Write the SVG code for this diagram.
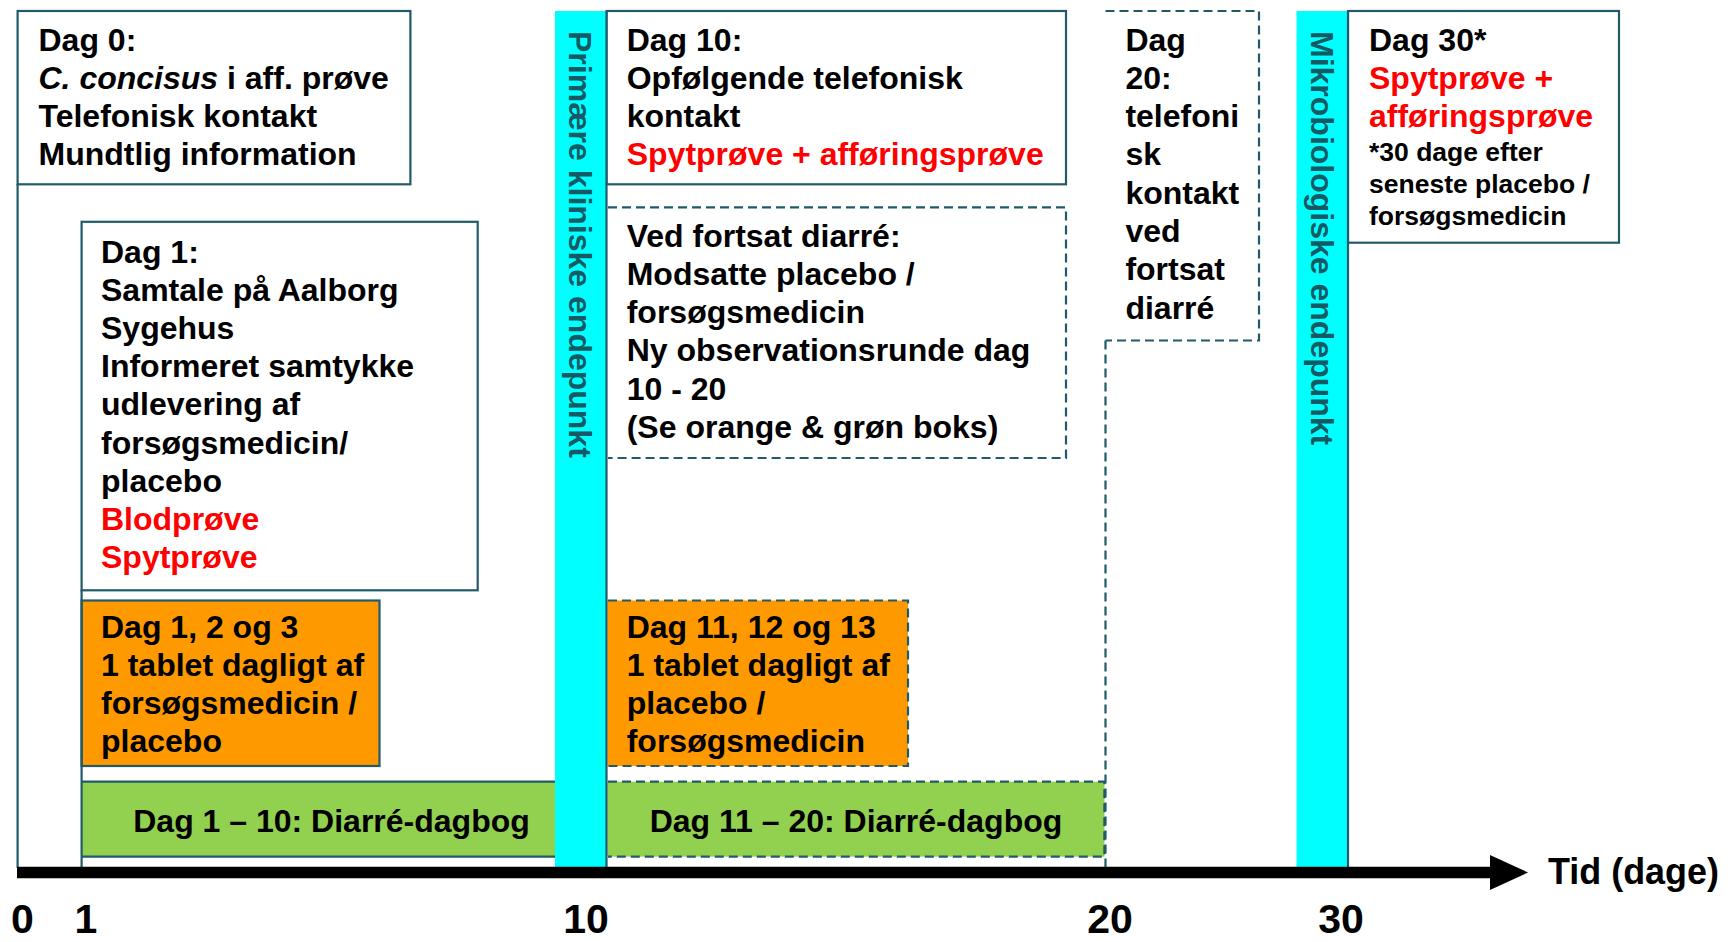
<svg xmlns="http://www.w3.org/2000/svg" width="1730" height="942" viewBox="0 0 1730 942">
<style>
text { font-family: "Liberation Sans", Arial, sans-serif; font-weight: bold; font-size: 32px; fill: #000; }
.red { fill: #FF0000; }
.small { font-size: 26.5px; }
.vert { fill: #145A64; }
.box { fill: #fff; stroke: #215A68; stroke-width: 2.2; }
.dash { fill: none; stroke: #215A68; stroke-width: 2.2; stroke-dasharray: 9 5; }
.solid { fill: none; stroke: #215A68; stroke-width: 2.2; }
.orange { fill: #FF9900; }
.green { fill: #92D050; }
.cyan { fill: #00FFFF; }
.num { font-size: 41px; text-anchor: middle; }
.tid { font-size: 37px; }
.mid { text-anchor: middle; }
</style>
<rect width="1730" height="942" fill="#fff"/>

<g id="dag0">
<rect class="box" x="17.6" y="11" width="392.8" height="173.3"/>
<text x="38.5" y="50.5">Dag 0:</text>
<text x="38.5" y="88.8"><tspan font-style="italic">C. concisus</tspan> i aff. prøve</text>
<text x="38.5" y="127.1">Telefonisk kontakt</text>
<text x="38.5" y="165.4">Mundtlig information</text>
</g>

<g id="dag1">
<rect class="box" x="81.6" y="221.8" width="396.1" height="368.5"/>
<text x="101"><tspan x="101" y="262.5">Dag 1:</tspan><tspan x="101" y="300.7">Samtale på Aalborg</tspan><tspan x="101" y="338.9">Sygehus</tspan><tspan x="101" y="377.1">Informeret samtykke</tspan><tspan x="101" y="415.3">udlevering af</tspan><tspan x="101" y="453.5">forsøgsmedicin/</tspan><tspan x="101" y="491.7">placebo</tspan><tspan x="101" y="529.9" class="red">Blodprøve</tspan><tspan x="101" y="568.1" class="red">Spytprøve</tspan></text>
</g>

<g id="medicin1">
<rect class="orange" x="81.6" y="600.5" width="297.9" height="165.5" stroke="#215A68" stroke-width="2.2"/>
<text><tspan x="101" y="637.5">Dag 1, 2 og 3</tspan><tspan x="101" y="675.7">1 tablet dagligt af</tspan><tspan x="101" y="713.9">forsøgsmedicin /</tspan><tspan x="101" y="752.1">placebo</tspan></text>
</g>

<g id="dagbog1">
<rect class="green" x="81.6" y="781.7" width="474" height="75"/>
<path class="solid" d="M81.6,781.7 H556 M81.6,856.7 H556"/>
<text class="mid" x="331.5" y="831.5">Dag 1 – 10: Diarré-dagbog</text>
</g>

<g id="dag10">
<rect class="box" x="606.5" y="11" width="459.5" height="173.3"/>
<text><tspan x="626.7" y="50.5">Dag 10:</tspan><tspan x="626.7" y="88.8">Opfølgende telefonisk</tspan><tspan x="626.7" y="127.1">kontakt</tspan><tspan x="626.7" y="165.4" class="red">Spytprøve + afføringsprøve</tspan></text>
</g>

<g id="fortsat">
<path class="dash" d="M608,207.4 H1066 V458 H608"/>
<text><tspan x="626.7" y="246.8">Ved fortsat diarré:</tspan><tspan x="626.7" y="285">Modsatte placebo /</tspan><tspan x="626.7" y="323.2">forsøgsmedicin</tspan><tspan x="626.7" y="361.4">Ny observationsrunde dag</tspan><tspan x="626.7" y="399.6">10 - 20</tspan><tspan x="626.7" y="437.8">(Se orange &amp; grøn boks)</tspan></text>
</g>

<g id="medicin2">
<rect class="orange" x="607.5" y="600.5" width="300.5" height="165.5"/>
<path class="dash" d="M608,600.5 H908 V766 H608"/>
<text><tspan x="626.7" y="637.5">Dag 11, 12 og 13</tspan><tspan x="626.7" y="675.7">1 tablet dagligt af</tspan><tspan x="626.7" y="713.9">placebo /</tspan><tspan x="626.7" y="752.1">forsøgsmedicin</tspan></text>
</g>

<g id="dagbog2">
<rect class="green" x="607.5" y="781.7" width="497" height="75"/>
<path class="dash" d="M608,781.7 H1104.4 V856.7 H608"/>
<text class="mid" x="856" y="831.5">Dag 11 – 20: Diarré-dagbog</text>
</g>

<g id="dag20">
<path class="dash" d="M1105.5,11 H1259 V340.5 H1105.5"/>
<text><tspan x="1125.4" y="50.5">Dag</tspan><tspan x="1125.4" y="88.8">20:</tspan><tspan x="1125.4" y="127.1">telefoni</tspan><tspan x="1125.4" y="165.4">sk</tspan><tspan x="1125.4" y="203.7">kontakt</tspan><tspan x="1125.4" y="242">ved</tspan><tspan x="1125.4" y="280.3">fortsat</tspan><tspan x="1125.4" y="318.6">diarré</tspan></text>
</g>

<g id="dag30">
<rect class="box" x="1348" y="11" width="271" height="231.7"/>
<text><tspan x="1369" y="50.5">Dag 30*</tspan><tspan x="1369" y="88.8" class="red">Spytprøve +</tspan><tspan x="1369" y="127.1" class="red">afføringsprøve</tspan></text>
<text class="small"><tspan x="1369" y="160.5">*30 dage efter</tspan><tspan x="1369" y="192.5">seneste placebo /</tspan><tspan x="1369" y="224.5">forsøgsmedicin</tspan></text>
</g>

<g id="endepunkt-primaer">
<rect class="cyan" x="555" y="11" width="51.5" height="857"/>
<text class="vert" transform="translate(569,31) rotate(90)">Primære kliniske endepunkt</text>
</g>

<g id="endepunkt-mikro">
<rect class="cyan" x="1296.5" y="11" width="51.5" height="857"/>
<text class="vert" transform="translate(1311,31) rotate(90)">Mikrobiologiske endepunkt</text>
</g>

<g id="connectors">
<path class="solid" d="M17.6,184 V868"/>
<path class="solid" d="M81.6,590 V868"/>
<path class="solid" d="M606.5,11 V868"/>
<path class="dash" d="M1105.5,340.5 V868"/>
<path class="solid" d="M1348,11 V868"/>
<line x1="17" y1="872.5" x2="1492" y2="872.5" stroke="#000" stroke-width="11.5"/>
<polygon points="1490,855 1528,872.5 1490,890" fill="#000"/>
</g>

<g id="axis-labels">
<text class="tid" x="1548" y="884" textLength="171" lengthAdjust="spacingAndGlyphs">Tid (dage)</text>
<text class="num" x="22.5" y="933">0</text>
<text class="num" x="86" y="933">1</text>
<text class="num" x="586" y="933">10</text>
<text class="num" x="1110" y="933">20</text>
<text class="num" x="1341" y="933">30</text>
</g>
</svg>
